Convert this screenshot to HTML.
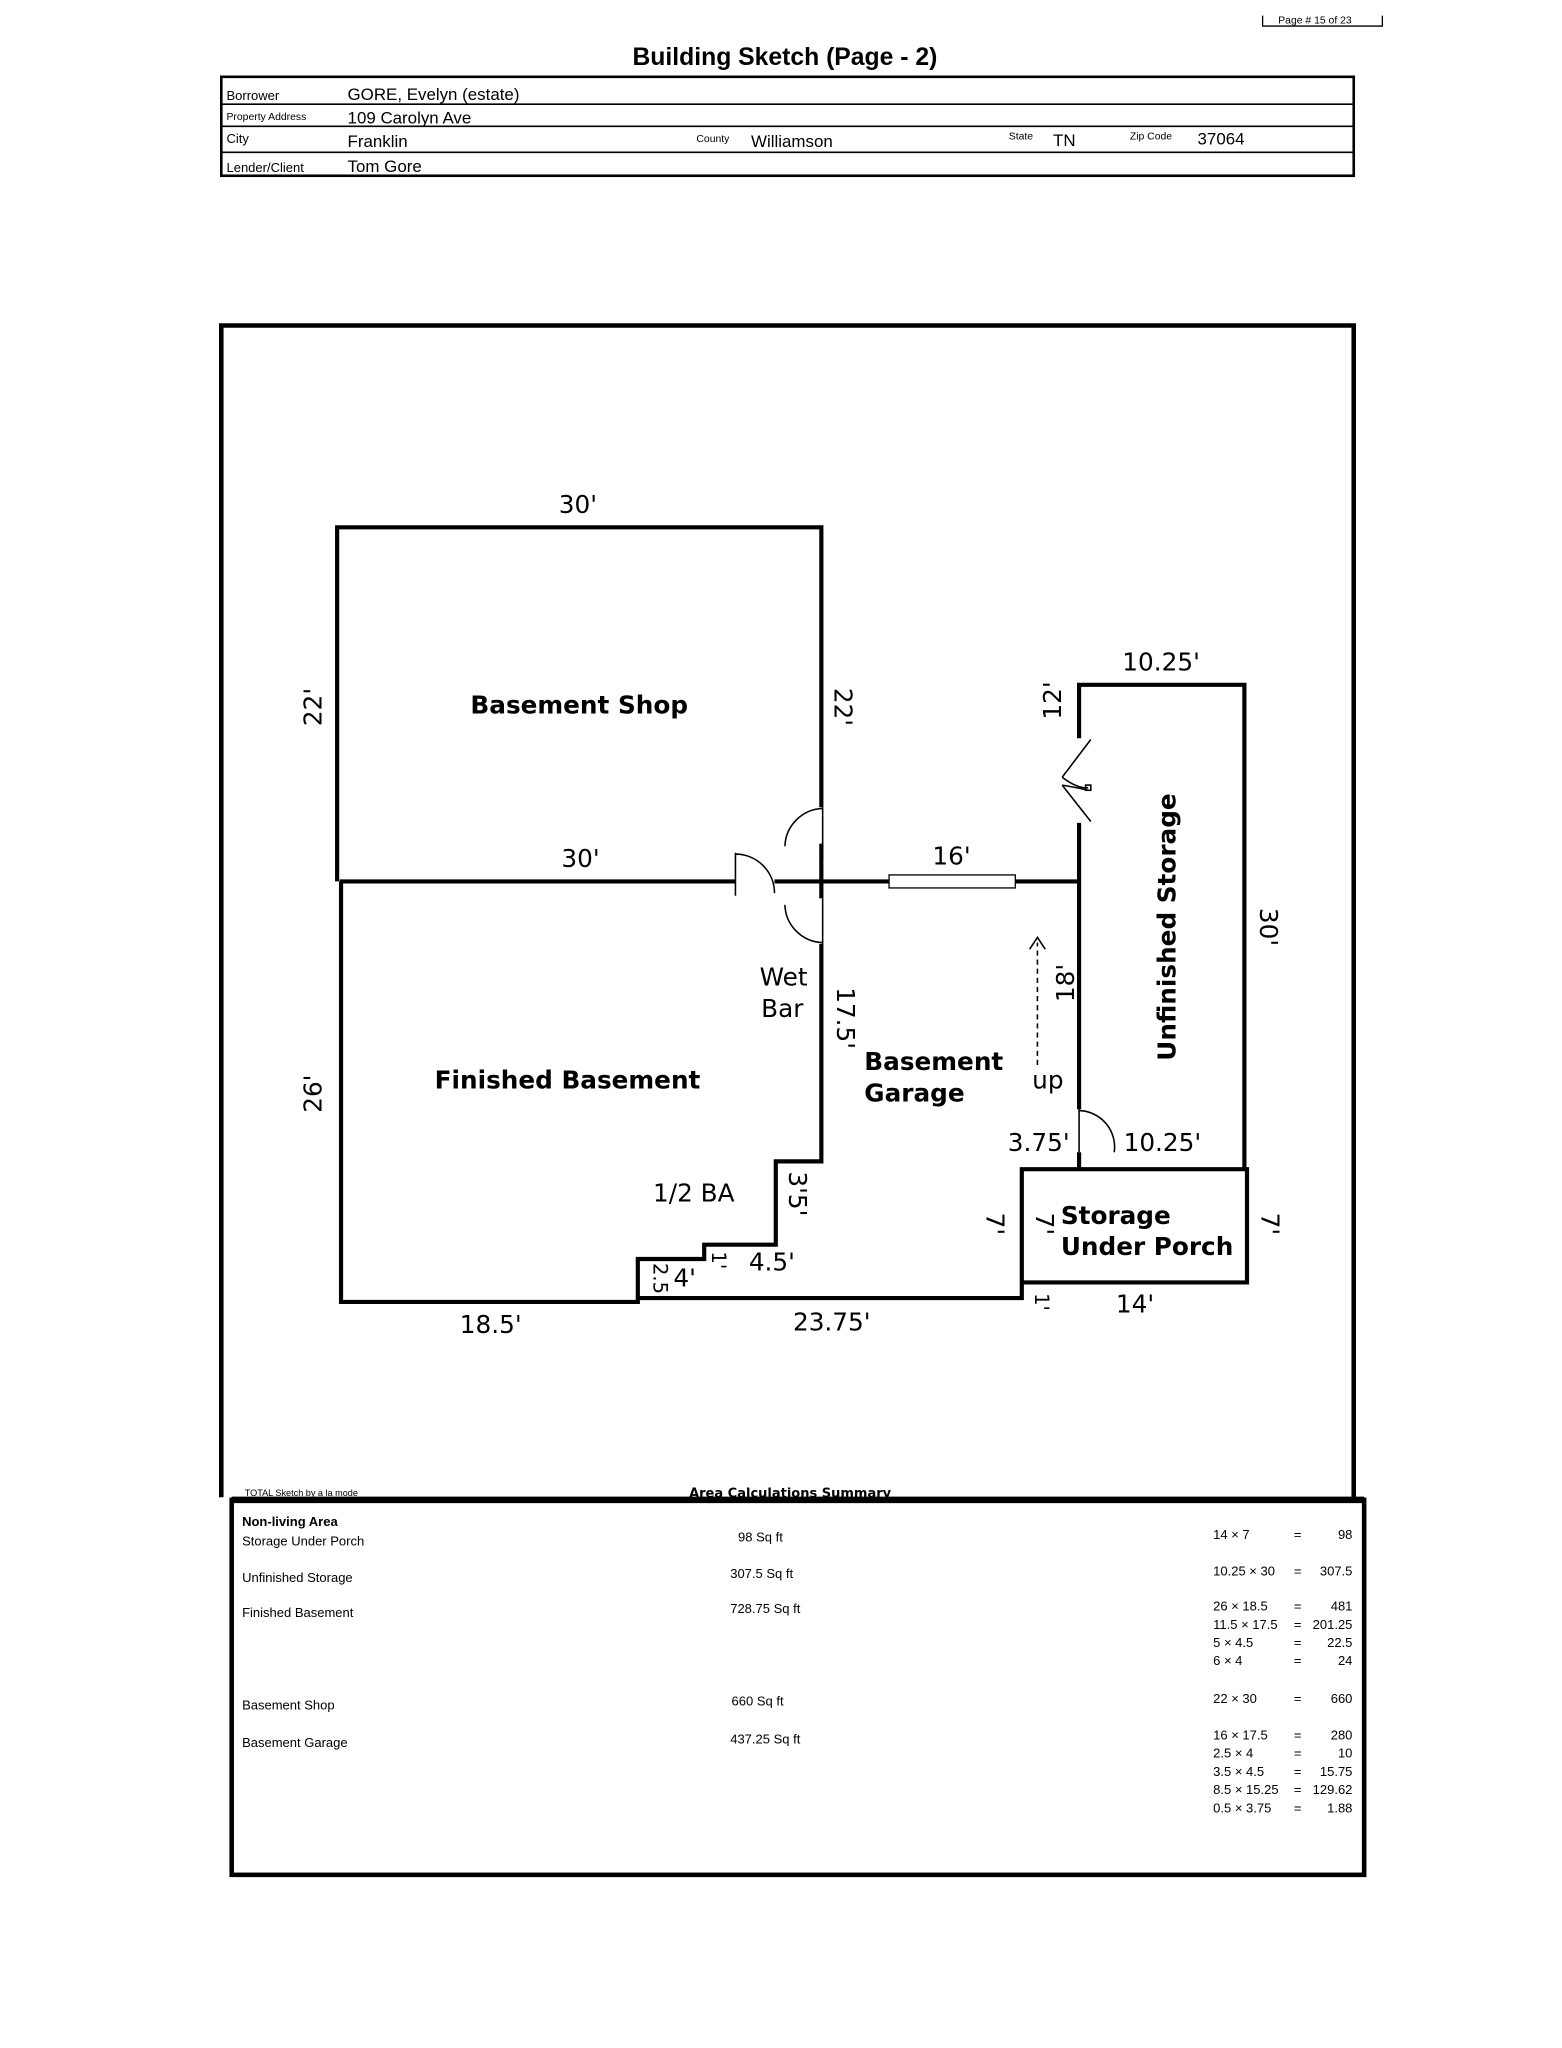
<!DOCTYPE html>
<html><head><meta charset="utf-8"><style>
html,body{margin:0;padding:0;background:#fff;}
svg{display:block;}
text{font-family:"DejaVu Sans","Liberation Sans",sans-serif;fill:#000;}
.h{font-family:"Liberation Sans",sans-serif;}
.b{font-weight:bold;}
</style></head><body>
<svg width="1562" height="2048" viewBox="0 0 1200 1573" preserveAspectRatio="none" xmlns="http://www.w3.org/2000/svg">
<!-- page # box -->
<path d="M970 12 V20 H1062 V12" fill="none" stroke="#000" stroke-width="1"/>
<text x="982" y="18" class="h" font-size="8">Page # 15 of 23</text>
<text x="603" y="50" class="h b" font-size="19" text-anchor="middle" transform="scale(1,1)">Building Sketch (Page - 2)</text>
<!-- header table -->
<rect x="170" y="59" width="870" height="76" fill="none" stroke="#000" stroke-width="2"/>
<g stroke="#000" stroke-width="1.2">
<line x1="170" y1="80" x2="1040" y2="80"/><line x1="170" y1="97" x2="1040" y2="97"/><line x1="170" y1="117" x2="1040" y2="117"/>
</g>
<g class="h" font-size="10"><text x="174" y="77" class="h">Borrower</text><text x="174" y="92" class="h" font-size="8">Property Address</text><text x="174" y="110" class="h">City</text><text x="174" y="132" class="h">Lender/Client</text>
<text x="535" y="109" class="h" font-size="8">County</text><text x="775" y="107" class="h" font-size="8">State</text><text x="868" y="107" class="h" font-size="8">Zip Code</text></g>
<g font-size="13"><text x="267" y="77" class="h">GORE, Evelyn (estate)</text><text x="267" y="95" class="h">109 Carolyn Ave</text><text x="267" y="113" class="h">Franklin</text><text x="577" y="113" class="h">Williamson</text><text x="809" y="112" class="h">TN</text><text x="920" y="111" class="h">37064</text><text x="267" y="132" class="h">Tom Gore</text></g>
<!-- outer frame -->
<path d="M170 1150 V250 H1040 V1150" fill="none" stroke="#000" stroke-width="3.5"/>
<rect x="178" y="1152" width="870" height="288" fill="none" stroke="#000" stroke-width="3.5"/>
<line x1="178" y1="1152" x2="1048" y2="1152" stroke="#000" stroke-width="5"/>
<!-- walls -->
<g stroke="#000" stroke-width="3.2" fill="none">
<path d="M631 620 V405 H259 V677"/>
<path d="M261 677 H565"/>
<path d="M595 677 H683 M780 677 H829"/>
<path d="M631 648 V690 M631 725 V892 H596 V956 H541 V967 H490 V1000 H262 V677"/>
<path d="M490 997 H785 V898 H958 V985 H785"/>
<path d="M829 567 V526 H956 V898"/>
<path d="M829 632 V852 M829 885 V898"/>
</g>
<rect x="683" y="672" width="97" height="10" fill="#fff" stroke="#000" stroke-width="1"/>
<!-- doors -->
<g stroke="#000" stroke-width="1.2" fill="none">
<path d="M565 655 V688 M565 656 A30 30 0 0 1 595 686"/>
<path d="M632 620 V660 M632 621 A30 30 0 0 0 603 650"/>
<path d="M632 725 V690 M632 724 A30 30 0 0 1 603 695"/>
<path d="M829 852 V885 M829 853 A28 28 0 0 1 856 885"/>
<path d="M838 568 L816 597 M838 631 L816 603 M816 597 Q828 606 836 605 M816 603 Q828 605 836 607"/>
<rect x="834" y="603" width="4" height="4"/>
</g>
<path d="M797 818 V724" stroke="#000" stroke-width="1.2" stroke-dasharray="4,3"/>
<path d="M791 729 L797 720 L803 729" stroke="#000" stroke-width="1.2" fill="none"/>
<!-- room labels -->
<g class="b" font-size="19">
<text x="445" y="548" text-anchor="middle">Basement Shop</text>
<text x="436" y="836" text-anchor="middle">Finished Basement</text>
<text x="664" y="822">Basement</text><text x="664" y="846">Garage</text>
<text x="815" y="940">Storage</text><text x="815" y="964">Under Porch</text>
<text transform="translate(903,712) rotate(-90)" text-anchor="middle">Unfinished Storage</text>
</g>
<!-- dims -->
<g font-size="19">
<text x="444" y="394" text-anchor="middle">30'</text>
<text x="446" y="666" text-anchor="middle">30'</text>
<text x="731" y="664" text-anchor="middle">16'</text>
<text x="892" y="515" text-anchor="middle">10.25'</text>
<text x="893" y="884" text-anchor="middle">10.25'</text>
<text x="798" y="884" text-anchor="middle">3.75'</text>
<text x="602" y="757" text-anchor="middle">Wet</text><text x="601" y="781" text-anchor="middle">Bar</text>
<text x="805" y="836" text-anchor="middle">up</text>
<text x="533" y="923" text-anchor="middle">1/2 BA</text>
<text x="593" y="976" text-anchor="middle">4.5'</text>
<text x="526" y="988" text-anchor="middle">4'</text>
<text x="377" y="1024" text-anchor="middle">18.5'</text>
<text x="639" y="1022" text-anchor="middle">23.75'</text>
<text x="872" y="1008" text-anchor="middle">14'</text>
<text transform="translate(247,543) rotate(-90)" text-anchor="middle">22'</text>
<text transform="translate(641,543) rotate(90)" text-anchor="middle">22'</text>
<text transform="translate(247,840) rotate(-90)" text-anchor="middle">26'</text>
<text transform="translate(643,782) rotate(90)" text-anchor="middle">17.5'</text>
<text transform="translate(815,538) rotate(-90)" text-anchor="middle">12'</text>
<text transform="translate(825,755) rotate(-90)" text-anchor="middle">18'</text>
<text transform="translate(968,712) rotate(90)" text-anchor="middle">30'</text>
<text transform="translate(606,917) rotate(90)" text-anchor="middle">3'5'</text>
<text transform="translate(758,940) rotate(90)" text-anchor="middle">7'</text>
<text transform="translate(796,940) rotate(90)" text-anchor="middle">7'</text>
<text transform="translate(969,940) rotate(90)" text-anchor="middle">7'</text>
<text transform="translate(795,1000) rotate(90)" text-anchor="middle" font-size="15">1'</text>
<text transform="translate(547,968) rotate(90)" text-anchor="middle" font-size="15">1'</text>
<text transform="translate(502,982) rotate(90)" text-anchor="middle" font-size="15">2.5</text>
</g>
<!-- summary -->
<text x="188" y="1149" font-size="7" class="h">TOTAL Sketch by a la mode</text>
<text x="607" y="1150" font-size="10" class="b" text-anchor="middle">Area Calculations Summary</text>
<g font-size="10" class="h">
<text x="186" y="1172" class="h b">Non-living Area</text>
<text x="186" y="1187" class="h">Storage Under Porch</text><text x="567" y="1184" class="h">98 Sq ft</text>
<text x="186" y="1215" class="h">Unfinished Storage</text><text x="561" y="1212" class="h">307.5 Sq ft</text>
<text x="186" y="1242" class="h">Finished Basement</text><text x="561" y="1239" class="h">728.75 Sq ft</text>
<text x="186" y="1313" class="h">Basement Shop</text><text x="562" y="1310" class="h">660 Sq ft</text>
<text x="186" y="1342" class="h">Basement Garage</text><text x="561" y="1339" class="h">437.25 Sq ft</text>
</g>
<g font-size="10" class="h">
<text x="932" y="1182" class="h">14 × 7</text><text x="994" y="1182" class="h">=</text><text x="1039" y="1182" class="h" text-anchor="end">98</text>
<text x="932" y="1210" class="h">10.25 × 30</text><text x="994" y="1210" class="h">=</text><text x="1039" y="1210" class="h" text-anchor="end">307.5</text>
<text x="932" y="1237" class="h">26 × 18.5</text><text x="994" y="1237" class="h">=</text><text x="1039" y="1237" class="h" text-anchor="end">481</text>
<text x="932" y="1251" class="h">11.5 × 17.5</text><text x="994" y="1251" class="h">=</text><text x="1039" y="1251" class="h" text-anchor="end">201.25</text>
<text x="932" y="1265" class="h">5 × 4.5</text><text x="994" y="1265" class="h">=</text><text x="1039" y="1265" class="h" text-anchor="end">22.5</text>
<text x="932" y="1279" class="h">6 × 4</text><text x="994" y="1279" class="h">=</text><text x="1039" y="1279" class="h" text-anchor="end">24</text>
<text x="932" y="1308" class="h">22 × 30</text><text x="994" y="1308" class="h">=</text><text x="1039" y="1308" class="h" text-anchor="end">660</text>
<text x="932" y="1336" class="h">16 × 17.5</text><text x="994" y="1336" class="h">=</text><text x="1039" y="1336" class="h" text-anchor="end">280</text>
<text x="932" y="1350" class="h">2.5 × 4</text><text x="994" y="1350" class="h">=</text><text x="1039" y="1350" class="h" text-anchor="end">10</text>
<text x="932" y="1364" class="h">3.5 × 4.5</text><text x="994" y="1364" class="h">=</text><text x="1039" y="1364" class="h" text-anchor="end">15.75</text>
<text x="932" y="1378" class="h">8.5 × 15.25</text><text x="994" y="1378" class="h">=</text><text x="1039" y="1378" class="h" text-anchor="end">129.62</text>
<text x="932" y="1392" class="h">0.5 × 3.75</text><text x="994" y="1392" class="h">=</text><text x="1039" y="1392" class="h" text-anchor="end">1.88</text>
</g>
</svg>
</body></html>
